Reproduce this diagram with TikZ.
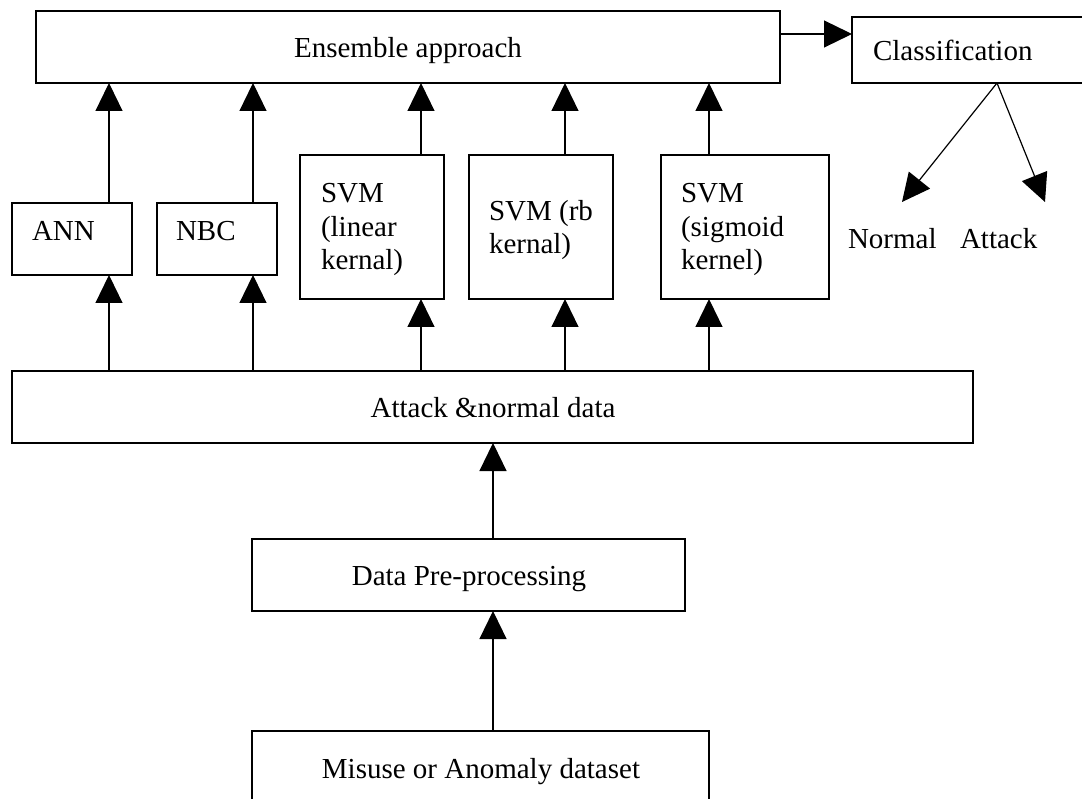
\documentclass[tikz,border=0pt]{standalone}
\usepackage{fontspec}
\setmainfont{Liberation Serif}
\usetikzlibrary{arrows.meta}
\tikzset{
  box/.style={draw, line width=1.3pt, rectangle, inner sep=0pt, outer sep=0pt, anchor=north west},
  txt/.style={inner sep=0pt, outer sep=0pt, anchor=base west, font=\fontsize{29}{33}\selectfont},
  ctxt/.style={txt, anchor=base},
  flow/.style={line width=1.2pt, -{Triangle[length=28pt,width=27pt]}}
}
\begin{document}
\begin{tikzpicture}[x=1pt, y=-1pt]
\useasboundingbox (0,0) rectangle (1082,799);
\fill[white] (0,0) rectangle (1082,799);

% boxes
\node[box, minimum width=744pt, minimum height=72pt] (ens) at (36,11) {};
\node[box, minimum width=240pt, minimum height=66pt] (cls) at (852,17) {};
\node[box, minimum width=120pt, minimum height=72pt] (ann) at (12,203) {};
\node[box, minimum width=120pt, minimum height=72pt] (nbc) at (157,203) {};
\node[box, minimum width=144pt, minimum height=144pt] (svml) at (300,155) {};
\node[box, minimum width=144pt, minimum height=144pt] (svmr) at (469,155) {};
\node[box, minimum width=168pt, minimum height=144pt] (svms) at (661,155) {};
\node[box, minimum width=961pt, minimum height=72pt] (att) at (12,371) {};
\node[box, minimum width=433pt, minimum height=72pt] (pre) at (252,539) {};
\node[box, minimum width=457pt, minimum height=72pt] (mis) at (252,731) {};

% texts
\node[ctxt] (tens) at (408,58) {Ensemble approach};
\node[txt] (tcls) at (873,61) {Classification};
\node[txt] (tann) at (32,241) {ANN};
\node[txt] (tnbc) at (176,241) {NBC};
\node[txt] (tl1) at (321,203) {SVM};
\node[txt] (tl2) at (321,237) {(linear};
\node[txt] (tl3) at (321,270) {kernal)};
\node[txt] (tr1) at (489,221) {SVM (rb};
\node[txt] (tr2) at (489,254) {kernal)};
\node[txt] (ts1) at (681,203) {SVM};
\node[txt] (ts2) at (681,237) {(sigmoid};
\node[txt] (ts3) at (681,270) {kernel)};
\node[txt] (tnor) at (848,249) {Normal};
\node[txt] (tatk) at (960,249) {Attack};
\node[ctxt] (tatt) at (493,418) {Attack \&normal data};
\node[ctxt] (tpre) at (469,585) {Data Pre-processing};
\node[ctxt] (tmis) at (481,778) {Misuse or Anomaly dataset};

% connector columns
\coordinate (xa) at (109,0);
\coordinate (xb) at (253,0);
\coordinate (xc) at (421,0);
\coordinate (xd) at (565,0);
\coordinate (xe) at (709,0);
\coordinate (xm) at (493,0);
\coordinate (yh) at (0,34);
\coordinate (fork) at (997,83);
\coordinate (nt) at (902,202);
\coordinate (at) at (1045,202);

% data flow upwards
\draw[flow] (mis.north -| xm) -- (pre.south -| xm);
\draw[flow] (pre.north -| xm) -- (att.south -| xm);
\foreach \c/\n in {xa/ann, xb/nbc, xc/svml, xd/svmr, xe/svms} {
  \draw[flow] (att.north -| \c) -- (\n.south -| \c);
  \draw[flow] (\n.north -| \c) -- (ens.south -| \c);
}
\draw[flow] (ens.east |- yh) -- (cls.west |- yh);
\draw[flow] (fork) -- (nt);
\draw[flow] (fork) -- (at);
\end{tikzpicture}
\end{document}
